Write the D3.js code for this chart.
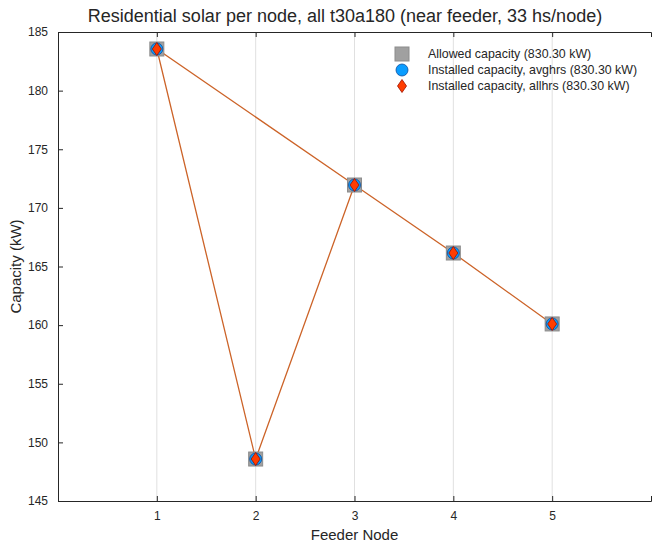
<!DOCTYPE html>
<html>
<head>
<meta charset="utf-8">
<script src="https://cdn.jsdelivr.net/npm/d3@7"></script>
<style>
  body { margin: 0; background: #fff; }
  text { font-family: "Liberation Sans", Arial, sans-serif; fill: #262626; }
</style>
</head>
<body>
<div id="container"></div>
<script>
/* CONSTANTS AND GLOBALS */
const width = 652,
    height = 545,
    margin = { top: 32, bottom: 44, left: 58, right: 1 };

// DATA
const nodes = [1, 2, 3, 4, 5];
const allowed = [183.55, 148.58, 171.95, 166.15, 160.10];
const avghrs = [183.55, 148.58, 171.95, 166.15, 160.10];
const allhrs = [183.55, 148.58, 171.95, 166.15, 160.10];
const lineOrder = [5, 4, 3, 1, 2, 3];
const yTicks = [145, 150, 155, 160, 165, 170, 175, 180, 185];
const legendLabels = [
    "Allowed capacity (830.30 kW)",
    "Installed capacity, avghrs (830.30 kW)",
    "Installed capacity, allhrs (830.30 kW)"
];

// SVG
const svg = d3.select("#container")
    .append("svg")
    .attr("width", width)
    .attr("height", height);

// SCALES
const x = d3.scaleLinear().domain([0, 6]).range([margin.left, width - margin.right]);
const y = d3.scaleLinear().domain([145, 185]).range([height - margin.bottom, margin.top]);

// GRID
svg.selectAll("line.grid")
    .data(nodes)
    .join("line")
    .attr("class", "grid")
    .attr("x1", d => x(d)).attr("x2", d => x(d))
    .attr("y1", y(145)).attr("y2", y(185))
    .attr("stroke", "#e0e0e0")
    .attr("stroke-width", 1);

// AXES
const xAxis = svg.append("g")
    .attr("transform", `translate(0,${y(145)})`)
    .call(d3.axisBottom(x).tickValues(nodes).tickSize(-5).tickPadding(10).tickFormat(d3.format("d")));
const xTop = svg.append("g")
    .attr("transform", `translate(0,${y(185)})`)
    .call(d3.axisTop(x).tickValues(nodes).tickSize(-5).tickFormat(""));
const yAxis = svg.append("g")
    .attr("transform", `translate(${x(0)},0)`)
    .call(d3.axisLeft(y).tickValues(yTicks).tickSize(-5).tickPadding(10));

[xAxis, xTop, yAxis].forEach(g => {
    g.select(".domain").attr("stroke", "#262626").attr("stroke-width", 1);
    g.selectAll(".tick line").attr("stroke", "#262626");
    g.selectAll("text").style("font-size", "12px").attr("fill", "#262626");
});

// LINE
const line = d3.line()
    .x(d => x(d))
    .y(d => y(allowed[nodes.indexOf(d)]));
svg.append("path")
    .datum(lineOrder)
    .attr("d", line)
    .attr("fill", "none")
    .attr("stroke", "#cc6328")
    .attr("stroke-width", 1.3);

// MARKERS
const diamond = "M0,-6.5L4.5,0L0,6.5L-4.5,0Z";
svg.selectAll("rect.allowed")
    .data(nodes)
    .join("rect")
    .attr("class", "allowed")
    .attr("x", d => x(d) - 7)
    .attr("y", (d, i) => y(allowed[i]) - 7)
    .attr("width", 14).attr("height", 14)
    .attr("fill", "#a0a0a0")
    .attr("stroke", "#8c8c8c");
svg.selectAll("circle.avg")
    .data(nodes)
    .join("circle")
    .attr("class", "avg")
    .attr("cx", d => x(d))
    .attr("cy", (d, i) => y(avghrs[i]))
    .attr("r", 6)
    .attr("fill", "#0a9dff")
    .attr("stroke", "#0a4ea0")
    .attr("stroke-width", 0.8);
svg.selectAll("path.all")
    .data(nodes)
    .join("path")
    .attr("class", "all")
    .attr("d", diamond)
    .attr("transform", (d, i) => `translate(${x(d)},${y(allhrs[i])})`)
    .attr("fill", "#ff3d00")
    .attr("stroke", "#9a1000")
    .attr("stroke-width", 0.8);

// LEGEND
const legend = svg.append("g").attr("transform", "translate(402,54)");
legendLabels.forEach((label, i) => {
    const g = legend.append("g").attr("transform", `translate(0,${i * 16})`);
    if (i === 0) {
        g.append("rect").attr("x", -7).attr("y", -7).attr("width", 14).attr("height", 14)
            .attr("fill", "#a0a0a0").attr("stroke", "#8c8c8c");
    } else if (i === 1) {
        g.append("circle").attr("r", 6).attr("fill", "#0a9dff")
            .attr("stroke", "#0a4ea0").attr("stroke-width", 0.8);
    } else {
        g.append("path").attr("d", diamond).attr("fill", "#ff3d00")
            .attr("stroke", "#9a1000").attr("stroke-width", 0.8);
    }
    g.append("text").attr("x", 26).attr("y", 4)
        .style("font-size", "12.4px").text(label);
});

// TITLES
svg.append("text")
    .attr("x", 345).attr("y", 22)
    .attr("text-anchor", "middle")
    .style("font-size", "18px")
    .attr("fill", "#000")
    .text("Residential solar per node, all t30a180 (near feeder, 33 hs/node)");
svg.append("text")
    .attr("x", x(3)).attr("y", 540)
    .attr("text-anchor", "middle")
    .style("font-size", "15px")
    .text("Feeder Node");
svg.append("text")
    .attr("transform", `translate(21,${(y(145) + y(185)) / 2}) rotate(-90)`)
    .attr("text-anchor", "middle")
    .style("font-size", "15px")
    .text("Capacity (kW)");
</script>
</body>
</html>
